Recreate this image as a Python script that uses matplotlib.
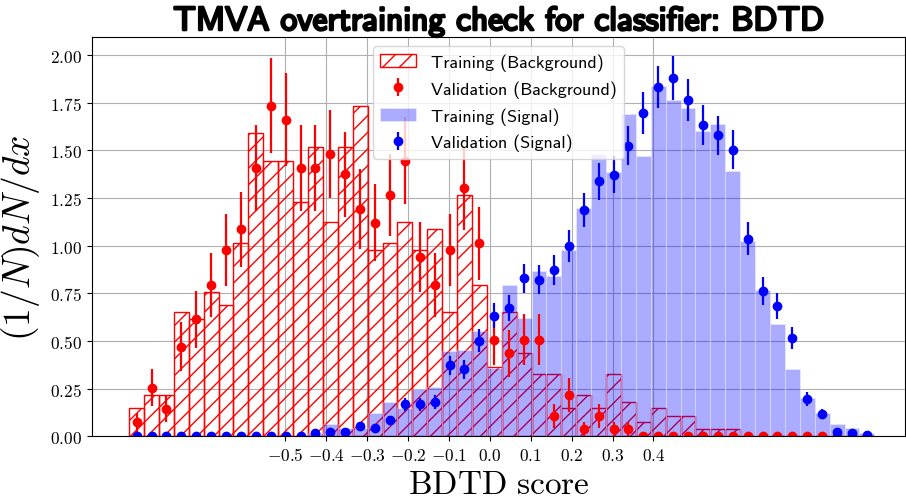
import numpy as np
import matplotlib
matplotlib.use("Agg")
import matplotlib.pyplot as plt
import matplotlib.patheffects as pe
from matplotlib.ticker import FuncFormatter

plt.rcParams['mathtext.fontset'] = 'cm'

# ---------------- data ----------------
title = "TMVA overtraining check for classifier: BDTD"
x_label = "BDTD score"
y_label = r"$(1/N)dN/dx$"
score_min, score_max, n_bins = -0.882, 0.940, 50
x_ticks = [-0.5, -0.4, -0.3, -0.2, -0.1, 0.0, 0.1, 0.2, 0.3, 0.4]
y_ticks = [0.0, 0.25, 0.5, 0.75, 1.0, 1.25, 1.5, 1.75, 2.0]

bkg_train = [0.147, 0.218, 0.218, 0.651, 0.615, 0.759, 0.687, 1.012, 1.590, 1.446,
             1.446, 1.229, 1.518, 1.123, 1.518, 1.735, 0.977, 1.012, 1.123, 0.977,
             1.086, 0.651, 1.266, 0.795, 0.362, 0.651, 0.435, 0.325, 0.325, 0.147,
             0.218, 0.147, 0.325, 0.182, 0.073, 0.147, 0.108, 0.108, 0.036, 0.036,
             0.036, 0, 0, 0, 0, 0, 0, 0, 0, 0]
bkg_val = [0.073, 0.255, 0.145, 0.470, 0.614, 0.795, 0.976, 1.086, 1.409, 1.735,
           1.661, 1.409, 1.409, 1.483, 1.375, 1.193, 1.121, 1.266, 1.446, 0.939,
           0.795, 0.976, 1.301, 1.012, 0.507, 0.435, 0.507, 0.507, 0.108, 0.217,
           0.038, 0.108, 0.038, 0.038, 0, 0, 0, 0, 0, 0,
           0, 0, 0, 0, 0, 0, 0, 0, 0, 0]
bkg_val_err = [0.051, 0.096, 0.072, 0.130, 0.149, 0.169, 0.188, 0.198, 0.226, 0.250,
               0.245, 0.226, 0.226, 0.231, 0.223, 0.208, 0.201, 0.214, 0.228, 0.184,
               0.169, 0.188, 0.217, 0.191, 0.135, 0.125, 0.135, 0.135, 0.062, 0.089,
               0.037, 0.062, 0.037, 0.037, 0, 0, 0, 0, 0, 0,
               0, 0, 0, 0, 0, 0, 0, 0, 0, 0]
sig_train = [0, 0, 0, 0, 0, 0, 0, 0, 0, 0,
             0, 0, 0.015, 0.065, 0.045, 0.045, 0.120, 0.178, 0.148, 0.248,
             0.257, 0.450, 0.455, 0.554, 0.360, 0.794, 0.622, 0.869, 0.843, 0.977,
             1.198, 1.479, 1.388, 1.691, 1.472, 1.836, 1.763, 1.721, 1.603, 1.637,
             1.390, 1.026, 0.768, 0.588, 0.355, 0.201, 0.122, 0.066, 0.042, 0.017]
sig_val = [0, 0, 0, 0, 0, 0, 0, 0, 0, 0,
           0, 0, 0.016, 0.024, 0.024, 0.054, 0.042, 0.085, 0.168, 0.168,
           0.180, 0.372, 0.351, 0.502, 0.633, 0.675, 0.830, 0.822, 0.874, 0.997,
           1.187, 1.338, 1.373, 1.525, 1.696, 1.833, 1.880, 1.764, 1.633, 1.579,
           1.504, 1.037, 0.762, 0.685, 0.516, 0.194, 0.117, 0.023, 0.015, 0.005]
sig_val_err = [0, 0, 0, 0, 0, 0, 0, 0, 0, 0,
               0, 0, 0.011, 0.013, 0.013, 0.019, 0.017, 0.024, 0.034, 0.034,
               0.035, 0.051, 0.049, 0.059, 0.066, 0.068, 0.076, 0.075, 0.078, 0.083,
               0.090, 0.096, 0.097, 0.103, 0.108, 0.112, 0.114, 0.110, 0.106, 0.104,
               0.102, 0.085, 0.073, 0.069, 0.060, 0.037, 0.028, 0.013, 0.010, 0.006]

# ---------------- plot ----------------
edges = np.linspace(score_min, score_max, n_bins + 1)
centers = 0.5 * (edges[:-1] + edges[1:])
width = edges[1] - edges[0]

fig = plt.figure(figsize=(9.06, 5.02), dpi=100)
ax = fig.add_axes([0.1015, 0.1289, 0.8974, 0.7954])
ax.set_axisbelow(True)
ax.grid(True, color='#b0b0b0', linewidth=0.8)

ax.bar(centers, bkg_train, width=width, align='center', fill=False,
       edgecolor='red', hatch='//', linewidth=1.0, label='Training (Background)')
ax.bar(centers, sig_train, width=width, align='center', color='blue', alpha=0.33,
       edgecolor='white', linewidth=0.8, label='Training (Signal)')
ax.errorbar(centers, bkg_val, yerr=bkg_val_err, fmt='o', color='red', markersize=6,
            elinewidth=1.6, capsize=0, label='Validation (Background)')
ax.errorbar(centers, sig_val, yerr=sig_val_err, fmt='o', color='blue', markersize=6,
            elinewidth=1.6, capsize=0, label='Validation (Signal)')

ax.set_xlim(-0.973, 1.015)
ax.set_ylim(0, 2.095)
ax.set_xticks(x_ticks)
ax.set_yticks(y_ticks)
ax.xaxis.set_major_formatter(FuncFormatter(lambda v, p: r'$%.1f$' % v))
ax.yaxis.set_major_formatter(FuncFormatter(lambda v, p: r'$%.2f$' % v))
ax.tick_params(labelsize=12.5)

ax.set_xlabel(r'$\mathrm{BDTD\ score}$', fontsize=24, labelpad=2)
ax.set_ylabel(y_label, fontsize=27, labelpad=6)

t = ax.set_title(title, fontsize=24, family='cmss10', pad=5)
t.set_path_effects([pe.withStroke(linewidth=1.8, foreground='black')])

h, l = ax.get_legend_handles_labels()
order = [0, 2, 1, 3]
ax.legend([h[i] for i in order], [l[i] for i in order], loc='upper center',
          prop={'family': 'cmss10', 'size': 13.0}, labelspacing=0.52)

fig.savefig('out.png', dpi=100)
